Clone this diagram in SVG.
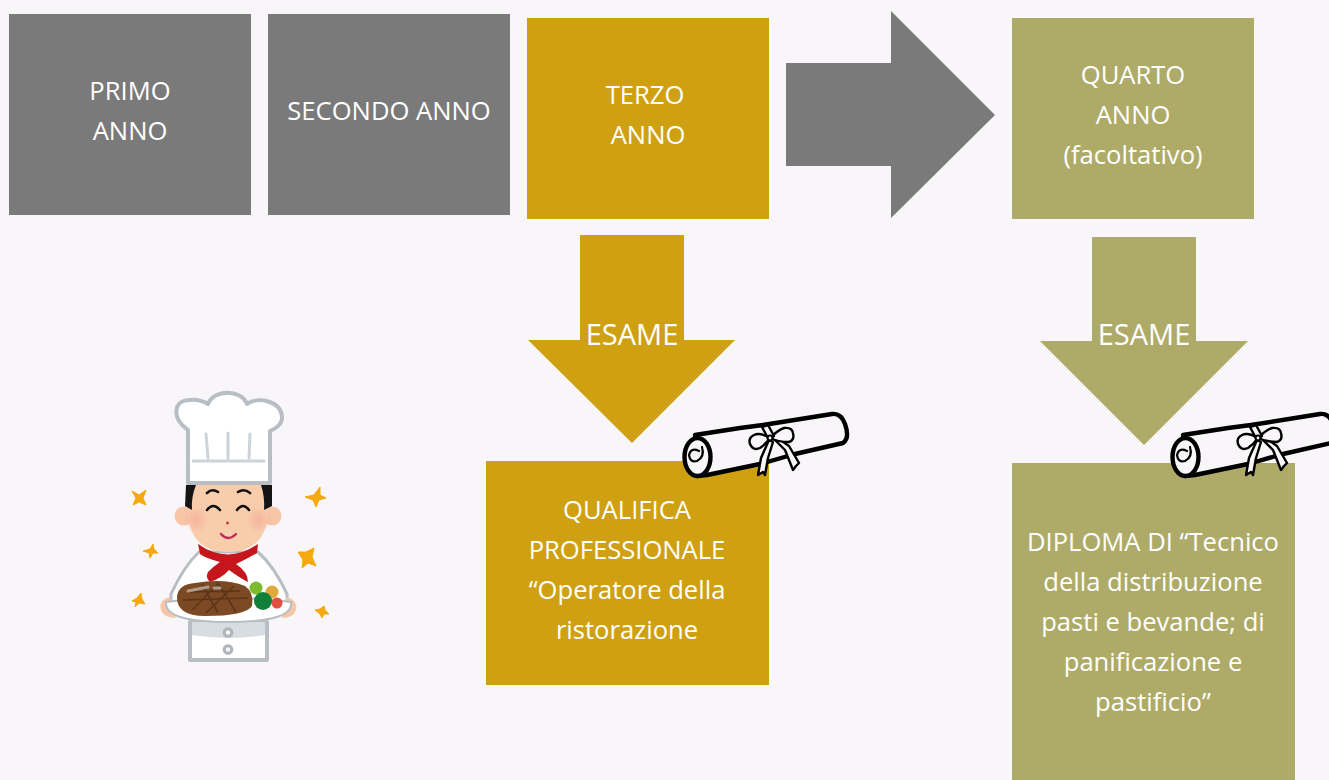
<svg xmlns="http://www.w3.org/2000/svg" width="1329" height="780" viewBox="0 0 1329 780">
<style>
.g{fill:#7a7a7a}.o{fill:#cfa112}.k{fill:#aeab69}
text{font-family:"Open Sans","Noto Sans",sans-serif;font-size:25.6px;fill:#fff;text-anchor:middle}
.big{font-size:29px}
.sc{fill:#f8f6f8;stroke:#000;stroke-width:4.4;stroke-linejoin:round;stroke-linecap:round}
.bow{fill:#f8f6f8;stroke:#000;stroke-width:2.4;stroke-linejoin:round}
.star{fill:#f5a80f;stroke:#f5a80f;stroke-width:1;stroke-linejoin:round}
.h{fill:#fff;stroke:#b8bec4;stroke-width:4;stroke-linejoin:round;stroke-linecap:round}
.ln{fill:none;stroke:#ccd3d9;stroke-width:3;stroke-linecap:round}
.f{fill:none;stroke:#111;stroke-width:2.6;stroke-linecap:round}
.skin{fill:#f6c6a6}
.hair{fill:#141414}
.btn{fill:#f4f5f6;stroke:#aeb5bb;stroke-width:3}
</style>
<defs>
<radialGradient id="blush"><stop offset="0" stop-color="#f5a69a" stop-opacity=".7"/><stop offset="1" stop-color="#f5a69a" stop-opacity="0"/></radialGradient>
<g id="scroll">
<path class="sc" d="M25 35 L70 28 L93 25 L162 14 Q171 13 175 24 Q180 38 173 43 L125 54 L90 64 L37 75 L27 76 Z"/>
<ellipse class="sc" cx="27.500" cy="57" rx="13" ry="19"/>
<path d="M29 51 Q21 47 19 55 Q20 63 27 61 Q35 57 32 47" fill="none" stroke="#000" stroke-width="2.2" stroke-linecap="round"/>
<path class="bow" d="M99 40 L91 58 L88 75 L93 72 L95 75 L98 58 L103 42 Z"/>
<path class="bow" d="M103 38 L115 50 L123 70 L126 66 L129 63 L119 46 L106 37 Z"/>
<path class="bow" d="M100 38 Q90 32 84 35 Q78 38 80 44 Q83 51 90 48 Q96 44 100 38 Z"/>
<path class="bow" d="M100 38 Q108 30 114 28 Q122 27 123 33 Q125 40 119 42 Q108 42 100 38 Z"/>
<path class="bow" d="M92 27 L98 25 L104 36 L99 40 Z"/>
<circle cx="100" cy="38" r="2.400" fill="#f8f6f8" stroke="#000" stroke-width="2"/>
</g>
</defs>
<rect width="1329" height="780" fill="#f8f6f8"/>

<g id="connectors">
<path class="g" d="M786 63H891V11L995 115L891 218V166H786Z"/>
<path class="o" d="M580 235H684V340H735L632 443L528 340H580Z"/>
<path class="k" d="M1092 237H1196V341H1248L1144 445L1040 341H1092Z"/>
</g>

<g id="primo"><rect class="g" x="9" y="14" width="242" height="201"/><text x="130" y="100">PRIMO</text><text x="130" y="140">ANNO</text></g>
<g id="secondo"><rect class="g" x="268" y="14" width="242" height="201"/><text x="389" y="120">SECONDO ANNO</text></g>
<g id="terzo"><rect class="o" x="527" y="18" width="242" height="201"/><text x="645" y="104">TERZO</text><text x="648" y="144">ANNO</text></g>
<g id="quarto"><rect class="k" x="1012" y="18" width="242" height="201"/><text x="1133" y="84">QUARTO</text><text x="1133" y="124">ANNO</text><text x="1133" y="164">(facoltativo)</text></g>

<g id="esame-terzo"><text class="big" x="632" y="345">ESAME</text></g>
<g id="esame-quarto"><text class="big" x="1144" y="345">ESAME</text></g>

<g id="qualifica"><rect class="o" x="486" y="461" width="283" height="224"/>
<text x="627" y="519">QUALIFICA</text><text x="627" y="559">PROFESSIONALE</text><text x="627" y="599">“Operatore della</text><text x="627" y="639">ristorazione</text></g>
<g id="diploma"><rect class="k" x="1012" y="463" width="283" height="317"/>
<text x="1153" y="551">DIPLOMA DI “Tecnico</text><text x="1153" y="591">della distribuzione</text><text x="1153" y="631">pasti e bevande; di</text><text x="1153" y="671">panificazione e</text><text x="1153" y="711">pastificio”</text></g>

<g id="scroll-qualifica"><use href="#scroll" x="670" y="400"/></g>
<g id="scroll-diploma"><use href="#scroll" x="1158" y="400"/></g>

<g id="chef">
<!-- sparkles -->
<path class="star" d="M132 491L139 495L146 490L143 498L146 505L139 502L133 505L136 498Z"/>
<path class="star" d="M305 497L314 495L320 487L320 495L326 498L319 500L316 507L313 500Z"/>
<path class="star" d="M143 551L150 549L153 544L154 549L158 553L153 553L150 558L149 553Z"/>
<path class="star" d="M298 552L306 552L314 548L312 557L316 566L308 563L302 568L303 560Z"/>
<path class="star" d="M132 601L137 598L141 593L142 599L145 604L139 603L135 607L136 602Z"/>
<path class="star" d="M315 610L320 609L324 606L325 610L329 614L324 614L322 618L320 614Z"/>
<!-- jacket hem with two buttons -->
<path class="h" d="M190 622H267V660H190Z"/>
<path d="M192 622H265V635Q228 641 192 635Z" fill="#d8dde2"/>
<circle class="btn" cx="228" cy="632.500" r="3.800"/>
<circle class="btn" cx="228" cy="649.500" r="3.800"/>
<!-- shoulders and sleeves -->
<path d="M171 594Q184 566 199 552L258 552Q274 566 287 594V612H171Z" fill="#fff" stroke="#b8bec4" stroke-width="3"/>
<!-- hands -->
<path class="skin" d="M170 597Q158 600 161 610Q164 618 176 618Z"/>
<path class="skin" d="M286 597Q298 600 296 610Q293 618 282 618Z"/>
<!-- ears, face, hair -->
<circle class="skin" cx="184" cy="516" r="9.500"/>
<circle class="skin" cx="272" cy="516" r="9.500"/>
<path d="M195 484H262Q268 498 268 516Q264 552 228 552Q192 552 188 516Q188 498 195 484Z" fill="#f8cdab"/>
<path class="hair" d="M186 485H196Q191 497 192 510L185 506Z"/>
<path class="hair" d="M272 485H261Q265 497 264 510L272 506Z"/>
<circle cx="196" cy="520" r="13" fill="url(#blush)"/>
<circle cx="259" cy="520" r="13" fill="url(#blush)"/>
<path class="f" d="M207 493Q212 488 218 492M238 492Q244 488 250 493M207 510Q213 502 220 510M237 510Q243 502 249 510"/>
<circle cx="227.500" cy="523" r="1.500" fill="#c63a50"/>
<path d="M221 534Q228 542 236 534" fill="none" stroke="#c02a5a" stroke-width="2.400" stroke-linecap="round"/>
<!-- neckerchief -->
<path d="M198 544Q228 565 258 544L257 553Q245 560 236 564Q248 572 248 582Q240 578 229 570Q222 578 210 582Q205 578 208 572Q214 566 220 562Q205 558 200 554Z" fill="#c4161c"/>
<!-- plate and food -->
<path d="M166 602Q228 594 291 602Q294 622 228 622Q164 622 166 602Z" fill="#fff" stroke="#b8bec4" stroke-width="2"/>
<path d="M177 596Q179 584 195 583Q225 578 245 586Q254 592 252 606Q246 616 205 616Q176 616 177 596Z" fill="#7b4a25"/>
<path d="M183 600L248 598M190 592L240 591M202 584L218 613M218 583L236 612M234 586L206 613M218 584L192 610" stroke="#5c3418" stroke-width="1.600" fill="none"/>
<path d="M188 591L208 587M214 588H220" stroke="#b09a88" stroke-width="3" stroke-linecap="round"/>
<circle cx="256" cy="588" r="6.500" fill="#7dbb2e"/>
<circle cx="272" cy="592" r="6.500" fill="#e0a93c"/>
<circle cx="277" cy="603" r="5.500" fill="#e05040"/>
<circle cx="263" cy="601" r="9" fill="#12803a"/>
<!-- toque -->
<path class="h" d="M188 483L188 430C172 420 172 400 190 400C198 399 203 401 208 404C214 389 241 389 247 404C258 396 281 401 282 417C282 425 276 428 270 431L270 483Z"/>
<path class="ln" d="M206 434L208 458M228 433V458M250 434L249 458M193 461H264"/>
</g>
</svg>
